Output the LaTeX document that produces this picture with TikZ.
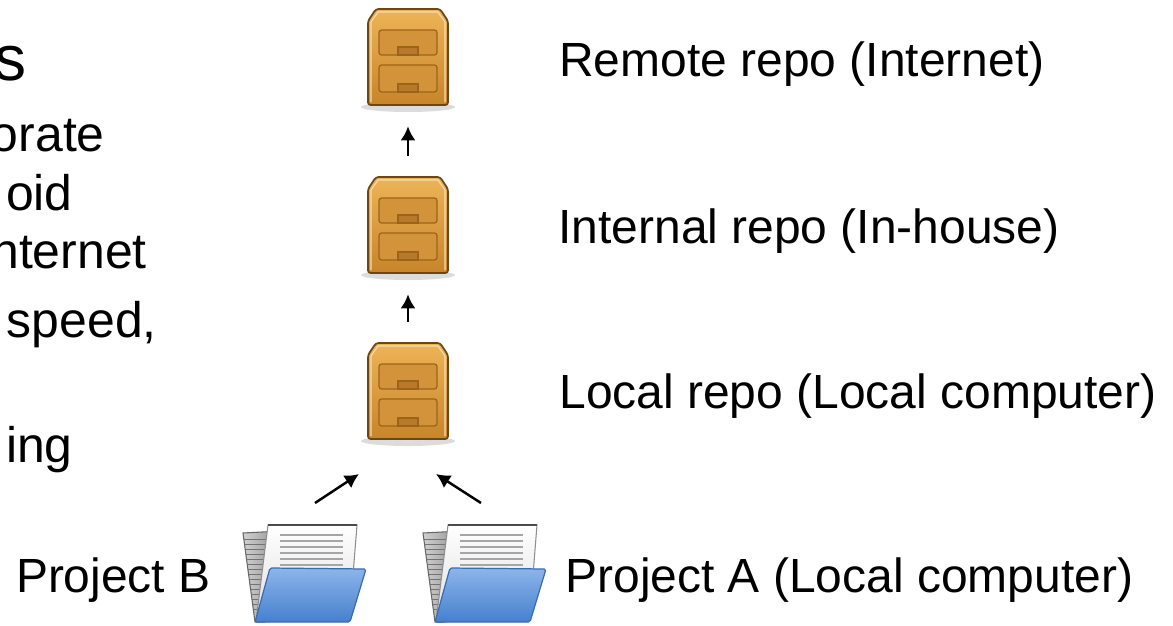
\documentclass[tikz,border=0pt]{standalone}
\usepackage{fontspec}
\setmainfont{Liberation Sans}
\usetikzlibrary{arrows.meta}

\definecolor{cabtop}{HTML}{EDB457}
\definecolor{cabbot}{HTML}{C8842A}
\definecolor{cabline}{HTML}{6B4813}
\definecolor{drawerfill}{HTML}{D3933A}
\definecolor{drawerline}{HTML}{9C6419}
\definecolor{handlefill}{HTML}{B9792A}
\definecolor{flaptop}{HTML}{8DB5EA}
\definecolor{flapbot}{HTML}{4580CE}
\definecolor{flapline}{HTML}{3A6CB2}
\definecolor{sheetline}{HTML}{8E8E8E}

\tikzset{
  cabinet/.pic={
    \fill[black!30, opacity=.45] (0,50) ellipse [x radius=47, y radius=5];
    \draw[cabline, line width=1pt, rounded corners=1.5pt, top color=cabtop, bottom color=cabbot]
      (-40,48) -- (-40,-36) -- (-32,-48) -- (32,-48) -- (40,-36) -- (40,48) -- cycle;
    \draw[white!55!cabtop, line width=.6pt] (-37,45) -- (-37,-35) -- (-30,-45) -- (30,-45) -- (37,-35) -- (37,45);
    \foreach \ya/\yb in {-27/-2, 8/35} {
      \filldraw[fill=drawerfill, draw=drawerline, line width=.7pt, rounded corners=1.5pt] (-29,\ya) rectangle (29,\yb);
      \filldraw[fill=handlefill, draw=drawerline, line width=.6pt] (-10,\yb-8) rectangle (10,\yb);
    }
  },
  folder/.pic={
    \draw[black!60, line width=.6pt, left color=black!18, right color=black!45]
      (-62,-40) -- (-24,-42) -- (-40,49) -- (-50,49) -- cycle;
    \begin{scope}
      \clip (-62,-40) -- (-24,-42) -- (-40,49) -- (-50,49) -- cycle;
      \foreach \yy in {-34,-29,...,36}
        \draw[black!55, line width=.5pt] (-62,\yy) -- (-24,\yy);
    \end{scope}
    \draw[sheetline, line width=.6pt, top color=white, bottom color=black!12]
      (-37,-48) -- (52,-48) -- (48,2) -- (-48,40) -- cycle;
    \draw[black!70, line width=.9pt] (-37,-48) -- (52,-48);
    \foreach \yy in {-38,-32,...,-8}
      \draw[black!35, line width=.8pt] (-25,\yy) -- (38,\yy);
    \draw[flapline, line width=.7pt, rounded corners=1pt, top color=flaptop, bottom color=flapbot]
      (-35,-5) -- (61,-4) -- (45,49) -- (-50,49) -- cycle;
  },
  arr/.style={-{Latex[length=2.8mm,width=3mm]}, line width=1.4pt}
}

\begin{document}
\begin{tikzpicture}[x=0.2mm, y=-0.2mm]
  \useasboundingbox (0,0) rectangle (1173,625);
  \fill[white] (0,0) rectangle (1173,625);
  \clip (0,0) rectangle (1173,625);

  \begin{scope}[every node/.style={inner sep=0, anchor=base east, font=\fontsize{28.4}{33}\selectfont}]
    \node[font=\fontsize{36.4}{40}\selectfont] (title) at (27,80) {s};
    \node (orate) at (105,151) {orate};
    \node (oid) at (73,210) {oid};
    \node (internet) at (147,268) {nternet};
    \node (speed) at (157,337) {speed,};
    \node (ing) at (73,462) {ing};
  \end{scope}

  \begin{scope}[every node/.style={inner sep=0, minimum width=16.2mm, minimum height=19.2mm}]
    \node (remote) at (408,57) {};
    \node (internal) at (408,225) {};
    \node (local) at (408,391) {};
    \node[minimum width=24.8mm, minimum height=19.4mm] (projb) at (305,573) {};
    \node[minimum width=24.8mm, minimum height=19.4mm] (proja) at (485,573) {};
  \end{scope}

  \pic at (remote) {cabinet};
  \pic at (internal) {cabinet};
  \pic at (local) {cabinet};
  \pic at (projb) {folder};
  \pic at (proja) {folder};

  \begin{scope}[every node/.style={inner sep=0, anchor=base west, font=\fontsize{27.3}{32}\selectfont}]
    \node (remotelbl) at (559,76) {Remote repo (Internet)};
    \node (internallbl) at (558,243) {Internal repo (In-house)};
    \node (locallbl) at (559,408) {Local repo (Local computer)};
    \node (projalbl) at (565,592) {Project A (Local computer)};
    \node[anchor=base east] (projblbl) at (211,592) {Project B};
  \end{scope}

  \coordinate (bfoot) at (315,503);
  \coordinate (btip) at (359,474);
  \coordinate (afoot) at (481,503);
  \coordinate (atip) at (436,474);

  \begin{scope}[arr, shorten <=4.2mm, shorten >=4.2mm]
    \draw (internal) to (remote);
    \draw (local) to (internal);
  \end{scope}
  \draw[arr] (bfoot) to (btip);
  \draw[arr] (afoot) to (atip);
\end{tikzpicture}
\end{document}
